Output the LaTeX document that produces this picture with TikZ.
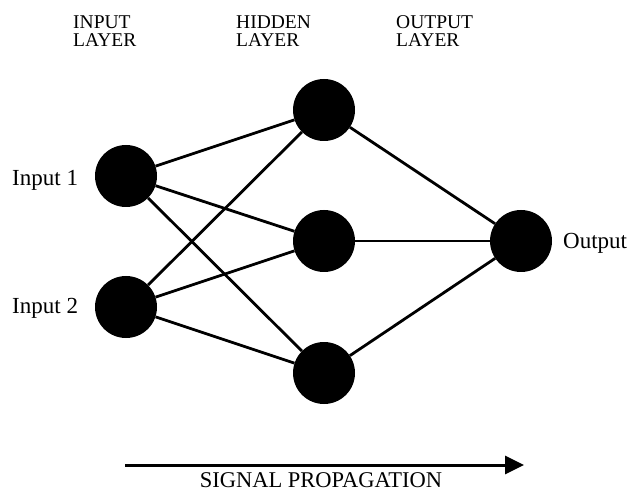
\documentclass[tikz,border=0pt]{standalone}
\usepackage{fontspec}
\setmainfont{Liberation Serif}
\usepackage{tikz}
\usetikzlibrary{positioning,arrows.meta}

\tikzset{
    neuron/.style={circle, fill=black, minimum size=62pt, inner sep=0pt},
    synapse/.style={line width=2.8pt, black},
    layertext/.style={anchor=base west, font=\fontsize{19.5}{18.5}\selectfont, align=left, inner sep=0pt},
    sidetext/.style={anchor=base west, font=\fontsize{23}{26}\selectfont, inner sep=0pt}
}

\begin{document}
\begin{tikzpicture}[x=1pt, y=-1pt]
    \useasboundingbox (0,0) rectangle (630,492);

    % Neurons
    \node[neuron] (in1) at (126,176) {};
    \node[neuron] (in2) at (126,307) {};
    \node[neuron] (hid1) at (324,110) {};
    \node[neuron] (hid2) at (324,241) {};
    \node[neuron] (hid3) at (324,373) {};
    \node[neuron] (out) at (521,241) {};

    % Connections
    \foreach \i in {in1,in2}
        \foreach \h in {hid1,hid2,hid3}
            \draw[synapse] (\i) -- (\h);
    \foreach \h in {hid1,hid2,hid3}
        \draw[synapse] (\h) -- (out);

    % Layer titles
    \node[layertext] (inlayer) at (73,47) {INPUT\\LAYER};
    \node[layertext] (hidlayer) at (236,47) {HIDDEN\\LAYER};
    \node[layertext] (outlayer) at (396,47) {OUTPUT\\LAYER};

    % Labels
    \node[sidetext] (lab1) at (12,186) {Input 1};
    \node[sidetext] (lab2) at (12,313) {Input 2};
    \node[sidetext] (labout) at (563,248) {Output};

    % Propagation
    \coordinate (sigstart) at (125,465);
    \coordinate (sigend) at (524,465);
    \draw[line width=3pt, -{Triangle[length=19pt, width=18pt]}] (sigstart) -- (sigend);
    \node[anchor=base, font=\fontsize{22.5}{26}\selectfont, inner sep=0pt] (sig) at (321,487) {SIGNAL PROPAGATION};
\end{tikzpicture}
\end{document}
